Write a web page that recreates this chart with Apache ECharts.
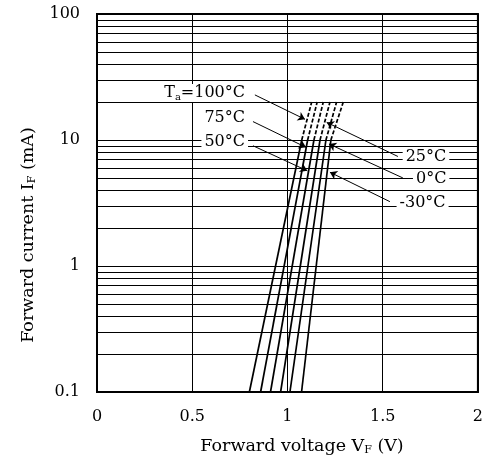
<!DOCTYPE html>
<html>
<head>
<meta charset="UTF-8">
<title>Forward current vs forward voltage</title>
<script src="https://cdn.jsdelivr.net/npm/echarts@6/dist/echarts.min.js"></script>
<style>
  html, body { margin: 0; padding: 0; background: #fff; }
  #main { width: 486px; height: 459px; }
</style>
</head>
<body>
<div id="main"></div>
<script>
// ambient temperatures, left to right on the chart
var temps = ['100', '75', '50', '25', '0', '-30'];
// forward voltage (V) read at 0.1 mA, 10 mA (end of solid part) and 20 mA (end of dashed part)
var vAt01 = [0.800, 0.859, 0.911, 0.964, 1.013, 1.074];
var vAt10 = [1.075, 1.106, 1.139, 1.171, 1.202, 1.228];
var vAt20 = [1.127, 1.156, 1.188, 1.223, 1.258, 1.293];
var iLow = 0.1, iMid = 10, iHigh = 20;

var xTicks = [0, 0.5, 1, 1.5, 2];
var yTicks = [0.1, 1, 10, 100];
// minor horizontal gridlines (2..9 in every decade)
var minorY = [0.2, 0.3, 0.4, 0.5, 0.6, 0.7, 0.8, 0.9,
              2, 3, 4, 5, 6, 7, 8, 9,
              20, 30, 40, 50, 60, 70, 80, 90];

// callouts: text anchor [V, mA], leader start, leader tip
var labelText = ['{t|T}{s|a}{t|=100°C}', '75°C', '50°C', '25°C', '0°C', '-30°C'];
var labelAt = [[0.793, 23.6], [0.793, 15.0], [0.793, 9.7], [1.605, 7.3], [1.659, 4.9], [1.573, 3.15]];
var labelSide = ['left', 'left', 'left', 'right', 'right', 'right'];
var leadFrom = [[0.829, 22.8], [0.819, 14.0], [0.819, 9.0], [1.580, 7.4], [1.606, 5.0], [1.538, 3.24]];
var leadTo = [[1.092, 14.6], [1.097, 8.75], [1.104, 5.7], [1.206, 13.8], [1.218, 9.3], [1.223, 5.55]];

var FONT = 'DejaVu Serif';
var richSub = {
  t: { fontFamily: FONT, fontSize: 16, color: '#000', lineHeight: 16, verticalAlign: 'top' },
  s: { fontFamily: FONT, fontSize: 10, color: '#000', lineHeight: 10, padding: [7, 0, 0, 0], verticalAlign: 'top' }
};
var richTitle = {
  t: { fontFamily: FONT, fontSize: 17.5, fill: '#000', lineHeight: 18, verticalAlign: 'top' },
  s: { fontFamily: FONT, fontSize: 11, fill: '#000', lineHeight: 11, padding: [8, 0, 0, 0], verticalAlign: 'top' }
};

var series = [];
for (var k = 0; k < temps.length; k++) {
  series.push({
    name: temps[k] + ' solid',
    type: 'line',
    data: [[vAt01[k], iLow], [vAt10[k], iMid]],
    showSymbol: false,
    silent: true,
    lineStyle: { color: '#000', width: 1.7 }
  });
  series.push({
    name: temps[k] + ' dashed',
    type: 'line',
    data: [[vAt10[k], iMid], [vAt20[k], iHigh]],
    showSymbol: false,
    silent: true,
    lineStyle: { color: '#000', width: 1.7, type: [4, 2] }
  });
}

var gridLines = minorY.map(function (v) { return { yAxis: v }; });
var leaders = leadFrom.map(function (p, i) {
  return [{ coord: p, symbol: 'none' }, { coord: leadTo[i], symbol: 'arrow' }];
});
var callouts = labelAt.map(function (p, i) {
  return {
    coord: p,
    label: {
      show: true,
      position: labelSide[i],
      distance: 0,
      formatter: labelText[i]
    }
  };
});

// minor grid hangs off an empty helper series
series.unshift({
  name: 'minor grid',
  type: 'line',
  data: [],
  silent: true,
  markLine: {
    silent: true,
    symbol: 'none',
    label: { show: false },
    lineStyle: { color: '#000', width: 1, type: 'solid' },
    data: gridLines,
    animation: false
  }
});
// leaders and callouts
series.push({
  name: 'leaders',
  type: 'line',
  data: [],
  silent: true,
  z: 5,
  markLine: {
    silent: true,
    symbolSize: 7,
    label: { show: false },
    lineStyle: { color: '#000', width: 1, type: 'solid' },
    data: leaders,
    animation: false
  },
  markPoint: {
    silent: true,
    symbol: 'rect',
    symbolSize: 0,
    label: {
      color: '#000',
      fontFamily: FONT,
      fontSize: 16,
      backgroundColor: '#fff',
      padding: [1, 3],
      rich: richSub
    },
    data: callouts,
    animation: false
  }
});

var myChart = echarts.init(document.getElementById('main'));
myChart.setOption({
  animation: false,
  backgroundColor: '#fff',
  grid: {
    left: 97, right: 8, top: 14, bottom: 67,
    show: true, borderColor: '#000', borderWidth: 2, backgroundColor: 'transparent',
    containLabel: false
  },
  xAxis: {
    type: 'value',
    min: 0, max: 2, interval: 0.5,
    axisLine: { show: true, lineStyle: { color: '#000', width: 2 } },
    axisTick: { show: false },
    axisLabel: {
      margin: 17, color: '#000', fontFamily: FONT, fontSize: 16,
      formatter: function (v) { return xTicks.indexOf(v) >= 0 ? String(v) : ''; }
    },
    splitLine: { show: true, lineStyle: { color: '#000', width: 1 } }
  },
  yAxis: {
    type: 'log',
    logBase: 10,
    min: 0.1, max: 100,
    axisLine: { show: true, lineStyle: { color: '#000', width: 2 } },
    axisTick: { show: false },
    axisLabel: {
      margin: 17, color: '#000', fontFamily: FONT, fontSize: 16,
      formatter: function (v) {
        for (var i = 0; i < yTicks.length; i++) {
          if (Math.abs(v - yTicks[i]) < yTicks[i] * 1e-6) return String(yTicks[i]);
        }
        return '';
      }
    },
    splitLine: { show: true, lineStyle: { color: '#000', width: 1 } }
  },
  graphic: [
    {
      type: 'text',
      x: 302, y: 446,
      style: {
        text: '{t|Forward voltage V}{s|F}{t| (V)}',
        align: 'center', verticalAlign: 'middle',
        rich: richTitle
      }
    },
    {
      type: 'text',
      x: 28, y: 235,
      rotation: Math.PI / 2,
      style: {
        text: '{t|Forward current I}{s|F}{t| (mA)}',
        align: 'center', verticalAlign: 'middle',
        rich: richTitle
      }
    }
  ],
  series: series
});
</script>
</body>
</html>
